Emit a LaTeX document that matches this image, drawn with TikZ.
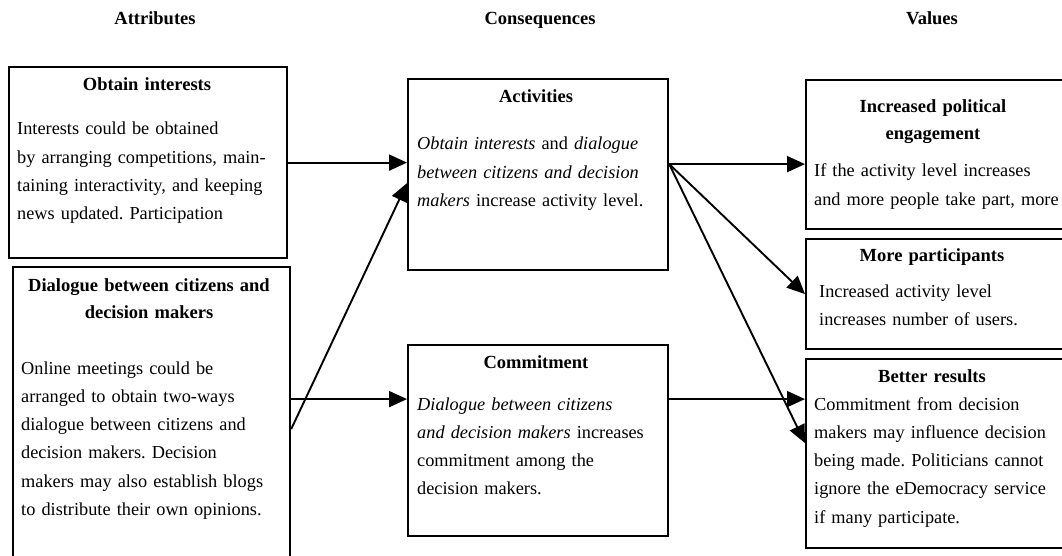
\documentclass[tikz,border=0pt]{standalone}
\usepackage{fontspec}
\setmainfont{Liberation Serif}
\usetikzlibrary{arrows.meta}
\begin{document}
\frenchspacing
\begin{tikzpicture}[x=1pt,y=-1pt,
  box/.style={draw, line width=2.2pt, inner sep=0pt, anchor=north west},
  arr/.style={line width=1.9pt, -{Triangle[length=18pt,width=16pt]}},
  ttl/.style={font=\fontsize{18.5}{27}\selectfont\bfseries, align=center, text width=265pt, inner sep=0pt, anchor=base},
  coltitle/.style={font=\fontsize{18.5}{22}\selectfont\bfseries, inner sep=0pt, anchor=base},
  body/.style={font=\fontsize{18.3}{28.3}\selectfont\frenchspacing, align=left, text width=275pt, inner sep=0pt, anchor=base west},
]
\useasboundingbox (0,0) rectangle (1062,556);
\clip (0,0) rectangle (1062,556);

% column titles
\node[coltitle] (tA) at (155,25) {Attributes};
\node[coltitle] (tC) at (540,25) {Consequences};
\node[coltitle] (tV) at (932,25) {Values};

% boxes
\node[box, minimum width=278pt, minimum height=191pt] (oi)  at (8,66) {};
\node[box, minimum width=277pt, minimum height=324pt] (dlg) at (12,266) {};
\node[box, minimum width=260pt, minimum height=191pt] (act) at (407,78) {};
\node[box, minimum width=260pt, minimum height=191pt] (com) at (407,344) {};
\node[box, minimum width=260pt, minimum height=149pt] (inc) at (805,79) {};
\node[box, minimum width=260pt, minimum height=110pt] (mor) at (805,238) {};
\node[box, minimum width=260pt, minimum height=189pt] (bet) at (805,358) {};

% texts
\node[ttl] (oiT) at (147,91) {Obtain interests};
\node[body] (oiB) at (17,135) {Interests could be obtained\\
by arranging competitions, main-\\
taining interactivity, and keeping\\
news updated. Participation};

\node[ttl] (dlgT) at (149,291) {Dialogue between citizens and\\decision makers};
\node[body] (dlgB) at (21,374) {Online meetings could be\\
arranged to obtain two-ways\\
dialogue between citizens and\\
decision makers. Decision\\
makers may also establish blogs\\
to distribute their own opinions.};

\node[ttl] (actT) at (536,103) {Activities};
\node[body] (actB) at (417,150) {\textit{Obtain interests} and \textit{dialogue}\\
\textit{between citizens and decision}\\
\textit{makers} increase activity level.};

\node[ttl] (comT) at (536,368) {Commitment};
\node[body] (comB) at (417,410) {\textit{Dialogue between citizens}\\
\textit{and decision makers} increases\\
commitment among the\\
decision makers.};

\node[ttl] (incT) at (933,113) {Increased political\\engagement};
\node[body] (incB) at (814,177) {If the activity level increases\\
and more people take part, more};

\node[ttl] (morT) at (932,261) {More participants};
\node[body] (morB) at (819,297) {Increased activity level\\
increases number of users.};

\node[ttl] (betT) at (932,382) {Better results};
\node[body] (betB) at (814,410) {Commitment from decision\\
makers may influence decision\\
being made. Politicians cannot\\
ignore the eDemocracy service\\
if many participate.};

% connectors
\coordinate (a1) at ([yshift=10.5pt]act.east);
\coordinate (c1) at ([yshift=41.5pt]com.west);
\draw[arr] (oi.east) -- (act.west |- oi.east);
\draw[arr] (dlg.east) -- ([yshift=-8.5pt]act.west);
\draw[arr] (dlg.east |- c1) -- (c1);
\draw[arr] (com.east |- c1) -- (bet.west |- c1);
\draw[arr] (a1) -- (inc.west |- a1);
\draw[arr] (a1) -- (mor.west);
\draw[arr] (a1) -- ([yshift=10.5pt]bet.west);
\end{tikzpicture}
\end{document}
